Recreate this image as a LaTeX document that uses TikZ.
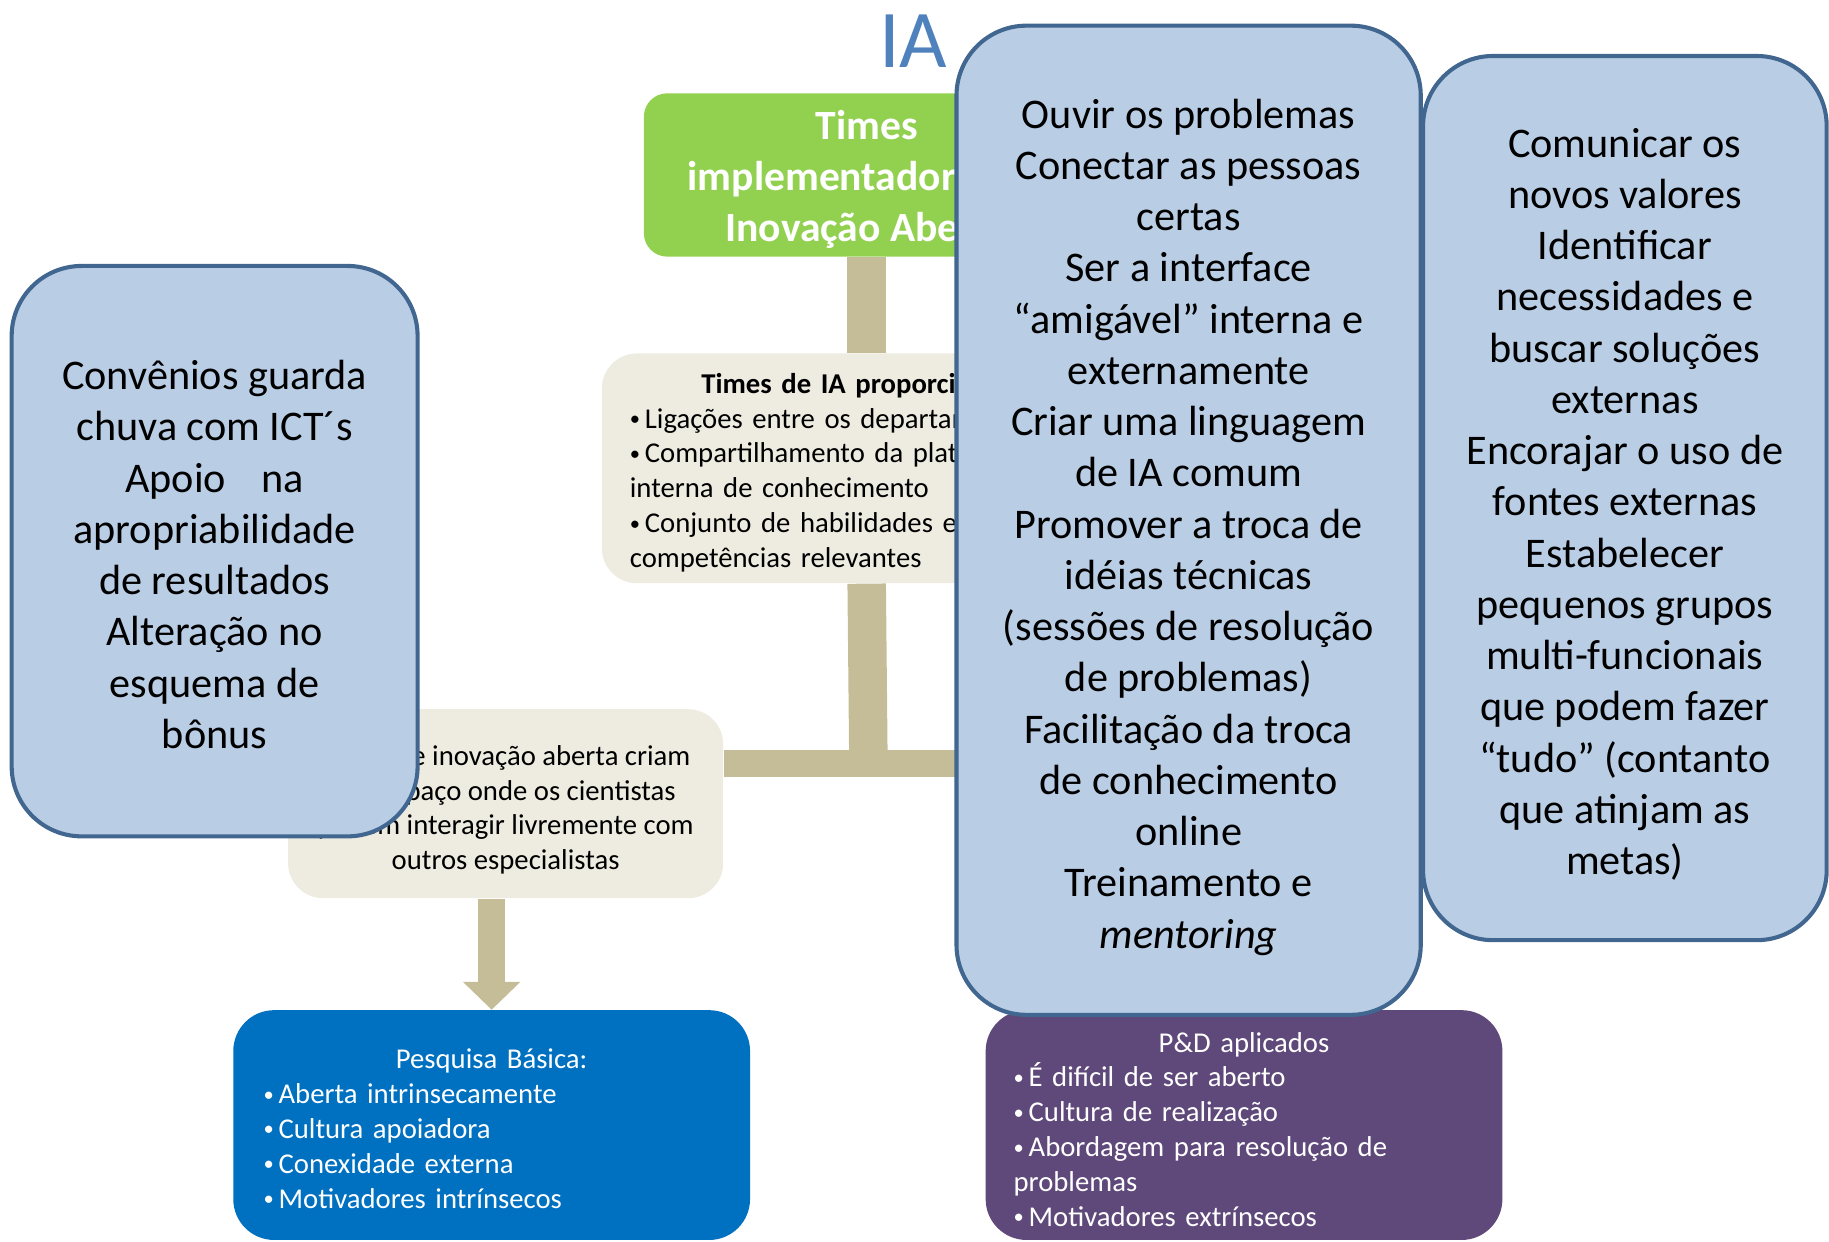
\documentclass[tikz,border=0pt]{standalone}
\usepackage{fontspec}
\setmainfont{Carlito}
\usetikzlibrary{arrows.meta, positioning}

\definecolor{calloutFill}{HTML}{B9CDE5}
\definecolor{calloutLine}{HTML}{41668F}
\definecolor{titleBlue}{HTML}{4F81BD}
\definecolor{teamGreen}{HTML}{92D050}
\definecolor{paleBeige}{HTML}{EEECE1}
\definecolor{barTan}{HTML}{C4BD97}
\definecolor{basicBlue}{HTML}{0070C0}
\definecolor{appliedPurple}{HTML}{5F497A}

\begin{document}
\begin{tikzpicture}[x=0.2mm, y=-0.2mm,
    callout/.style={draw=calloutLine, fill=calloutFill, line width=0.7mm,
        rounded corners=12mm, align=center, inner sep=0pt,
        font=\fontsize{20.6}{25}\selectfont},
    beigeBox/.style={fill=paleBeige, rounded corners=6mm, inner sep=0pt,
        font=\fontsize{14}{17}\selectfont},
    listBox/.style={rounded corners=7mm, inner sep=0pt, text=white,
        minimum width=88.6mm, minimum height=39.4mm, align=left,
        font=\fontsize{14}{17}\selectfont},
    tanBar/.style={draw=barTan, line width=4.6mm}]
    \def\listDot{\raisebox{1.2pt}{\fontsize{10}{10}\selectfont•}\,}

    \useasboundingbox (0,0) rectangle (1568,1064.75);

    % Title
    \node[text=titleBlue, font=\fontsize{40}{48}\selectfont] (iaTitle) at (783,35) {IA};

    % Draw chart boxes
    \node[fill=teamGreen, rounded corners=4mm, minimum width=76.4mm, minimum height=28mm,
        text=white, align=center, font=\fontsize{20.3}{25}\selectfont\bfseries] (teams)
        at (743,150) {\rule{0pt}{6.6mm}Times\\implementadores de\\Inovação Aberta};
    \node[beigeBox, minimum width=90.8mm, minimum height=39.4mm, text width=81.2mm, align=left]
        (provide) at (743,401.5)
        {{\centering\rule{0pt}{4.9mm}\textbf{Times de IA proporcionam:}\par}
        \listDot Ligações entre os departamentos\\
        \listDot Compartilhamento da plataforma\\
        interna de conhecimento\\
        \listDot Conjunto de habilidades e\\
        competências relevantes};
    \node[beigeBox, minimum width=74.6mm, minimum height=32.4mm, align=center]
        (space) at (433.5,689)
        {\rule{0pt}{5.5mm}Times de inovação aberta criam\\um espaço onde os cientistas\\podem interagir livremente com\\outros especialistas};
    \node[listBox, fill=basicBlue, text width=78.2mm] (basic) at (421.5,964.5)
        {{\centering\rule{0pt}{4.6mm}Pesquisa Básica:\par}
        \listDot Aberta intrinsecamente\\
        \listDot Cultura apoiadora\\
        \listDot Conexidade externa\\
        \listDot Motivadores intrínsecos};
    \node[listBox, fill=appliedPurple, text width=79mm] (applied) at (1066.5,964.5)
        {{\centering\rule{0pt}{4.9mm}P\&D aplicados\par}
        \listDot É difícil de ser aberto\\
        \listDot Cultura de realização\\
        \listDot Abordagem para resolução de\\
        problemas\\
        \listDot Motivadores extrínsecos};

    % Draw tan bars
    \coordinate (fork) at (744.5,654.5);
    \draw[tanBar, line width=6.6mm] (teams.south) -- (provide.north);
    \draw[tanBar, line width=6.6mm] (provide.south) -- (fork);
    \draw[tanBar] (space.east |- fork) -| (applied.north);
    \draw[tanBar, -{Triangle[width=9.6mm, length=4.8mm]}] (space.south -| basic.north) -- (basic.north);

    % Draw callouts
    \node[callout, minimum width=69.6mm, minimum height=97.8mm] (agreements) at (184,472.5)
        {\rule{0pt}{6.2mm}Convênios guarda\\chuva com ICT´s\\Apoio~~~\,na\\apropriabilidade\\de resultados\\Alteração no\\esquema de\\bônus};
    \node[callout, minimum width=79.6mm, minimum height=169.6mm] (roles) at (1019,446)
        {\rule{0pt}{7.4mm}Ouvir os problemas\\Conectar as pessoas\\certas\\Ser a interface\\“amigável” interna e\\externamente\\Criar uma linguagem\\de IA comum\\Promover a troca de\\idéias técnicas\\(sessões de resolução\\de problemas)\\Facilitação da troca\\de conhecimento\\online\\Treinamento e\\\textit{mentoring}};
    \node[callout, minimum width=69.2mm, minimum height=151.6mm] (culture) at (1393,427)
        {\rule{0pt}{7.1mm}Comunicar os\\novos valores\\Identificar\\necessidades e\\buscar soluções\\externas\\Encorajar o uso de\\fontes externas\\Estabelecer\\pequenos grupos\\multi-funcionais\\que podem fazer\\“tudo” (contanto\\que atinjam as\\metas)};
\end{tikzpicture}
\end{document}
